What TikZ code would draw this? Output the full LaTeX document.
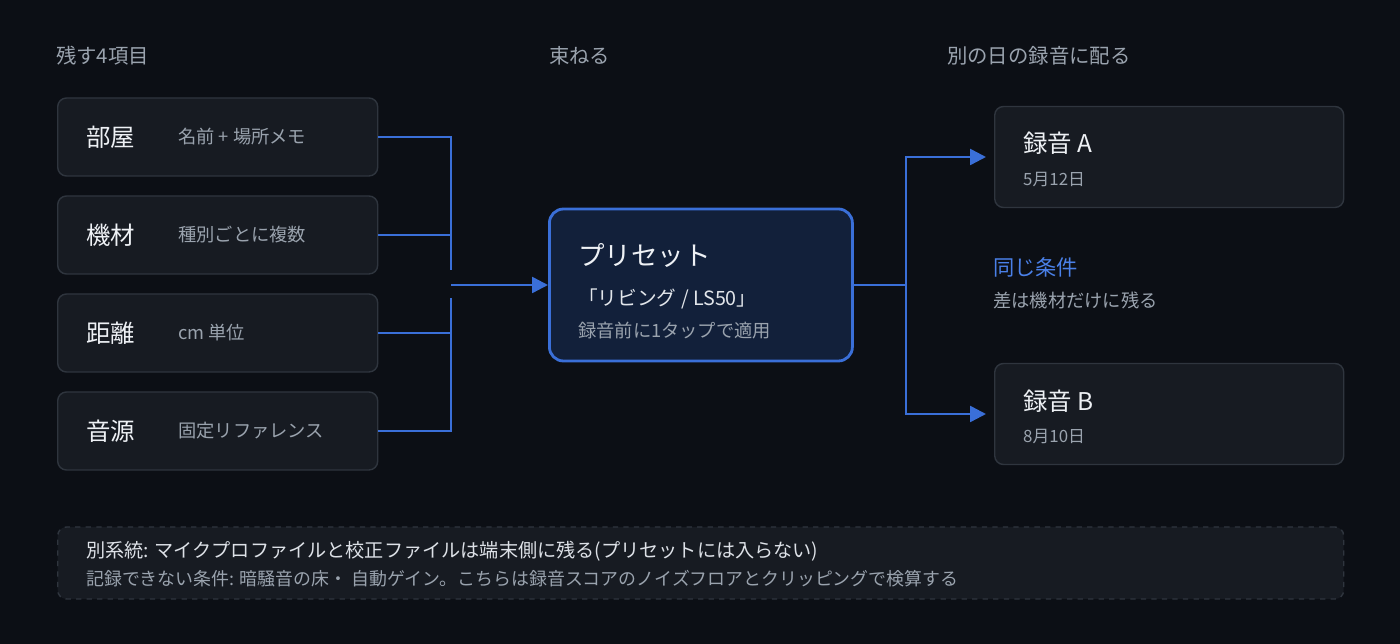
\documentclass[tikz,border=0pt]{standalone}
\usepackage{fontspec}
\setmainfont{Noto Sans CJK JP}
\usetikzlibrary{positioning,arrows.meta}
\definecolor{bgdark}{HTML}{0C0F15}
\definecolor{cardfill}{HTML}{171B22}
\definecolor{cardline}{HTML}{2F353E}
\definecolor{presetfill}{HTML}{12203A}
\definecolor{linkblue}{HTML}{3A6FD8}
\definecolor{softblue}{HTML}{4A80E8}
\definecolor{titletext}{HTML}{EEF1F5}
\definecolor{subtext}{HTML}{9AA3AE}
\tikzset{
  card/.style={draw=cardline, fill=cardfill, line width=0.8pt, rounded corners=5pt},
  heading/.style={anchor=west, text=subtext, font=\fontsize{11.6}{13}\selectfont},
  maintext/.style={anchor=west, text=titletext, font=\fontsize{13.9}{16}\selectfont},
  subnote/.style={anchor=west, text=subtext, font=\fontsize{10.4}{12}\selectfont},
  link/.style={draw=linkblue, line width=1.4pt},
  arrowlink/.style={link, -{Triangle[length=9pt,width=9pt]}},
}
\begin{document}
\begin{tikzpicture}[x=0.02cm, y=-0.02cm]
  \fill[bgdark] (0,0) rectangle (1400,644);
  \useasboundingbox (0,0) rectangle (1400,644);

  % headings
  \node[heading] (h1) at (50,56) {残す4項目};
  \node[heading] (h2) at (543,56) {束ねる};
  \node[heading] (h3) at (941,56) {別の日の録音に配る};

  % four items
  \foreach \name/\title/\note/\yc in {room/部屋/名前 + 場所メモ/137, gear/機材/種別ごとに複数/235, dist/距離/cm 単位/333, src/音源/固定リファレンス/431} {
    \node[card, minimum width=320*0.02cm, minimum height=78*0.02cm, anchor=west] (\name) at (57,\yc) {};
    \node[maintext] at (80,\yc) {\title};
    \node[subnote] at (172,\yc) {\note};
  }

  % preset
  \node[draw=linkblue, fill=presetfill, line width=1.6pt, rounded corners=8pt,
        minimum width=303*0.02cm, minimum height=152*0.02cm, anchor=west] (preset) at (548,285) {};
  \node[anchor=west, text=titletext, font=\fontsize{15.1}{17}\selectfont] at (572,255) {プリセット};
  \node[anchor=west, text=titletext!85!subtext, font=\fontsize{11.2}{13}\selectfont] at (572,299) {「リビング / LS50」};
  \node[subnote] at (572,331) {録音前に1タップで適用};

  % merge lines
  \coordinate (upper) at (451,270);
  \coordinate (lower) at (451,298);
  \coordinate (merge) at (451,285);
  \draw[link] (room.east) -| (upper);
  \draw[link] (gear.east) -- (gear.east -| upper);
  \draw[link] (src.east) -| (lower);
  \draw[link] (dist.east) -- (dist.east -| lower);
  \draw[arrowlink] (merge) -- (preset.west);

  % recordings
  \node[card, minimum width=349*0.02cm, minimum height=101*0.02cm, anchor=west] (recA) at (994,157) {};
  \node[maintext] at (1017,143) {録音 A};
  \node[subnote, font=\fontsize{9.6}{11}\selectfont] at (1017,180) {5月12日};
  \node[card, minimum width=349*0.02cm, minimum height=101*0.02cm, anchor=west] (recB) at (994,414) {};
  \node[maintext] at (1017,401) {録音 B};
  \node[subnote, font=\fontsize{9.6}{11}\selectfont] at (1017,437) {8月10日};

  \coordinate (split) at (906,285);
  \draw[link] (preset.east) -- (split);
  \draw[arrowlink] (split) |- ([xshift=-8*0.02cm]recA.west);
  \draw[arrowlink] (split) |- ([xshift=-8*0.02cm]recB.west);

  \node[anchor=west, text=softblue, font=\fontsize{12.1}{14}\selectfont] at (987,267) {同じ条件};
  \node[subnote] at (987,300) {差は機材だけに残る};

  % footnote
  \node[draw=cardline, dashed, fill=cardfill, line width=0.8pt, rounded corners=5pt,
        minimum width=1286*0.02cm, minimum height=72*0.02cm, anchor=west] (foot) at (57,563) {};
  \node[anchor=west, text=titletext!80!subtext, font=\fontsize{10.9}{13}\selectfont] at (80,551) {別系統: マイクプロファイルと校正ファイルは端末側に残る(プリセットには入らない)};
  \node[subnote, font=\fontsize{10.2}{12}\selectfont] at (80,579) {記録できない条件: 暗騒音の床・ 自動ゲイン。こちらは録音スコアのノイズフロアとクリッピングで検算する};
\end{tikzpicture}
\end{document}
